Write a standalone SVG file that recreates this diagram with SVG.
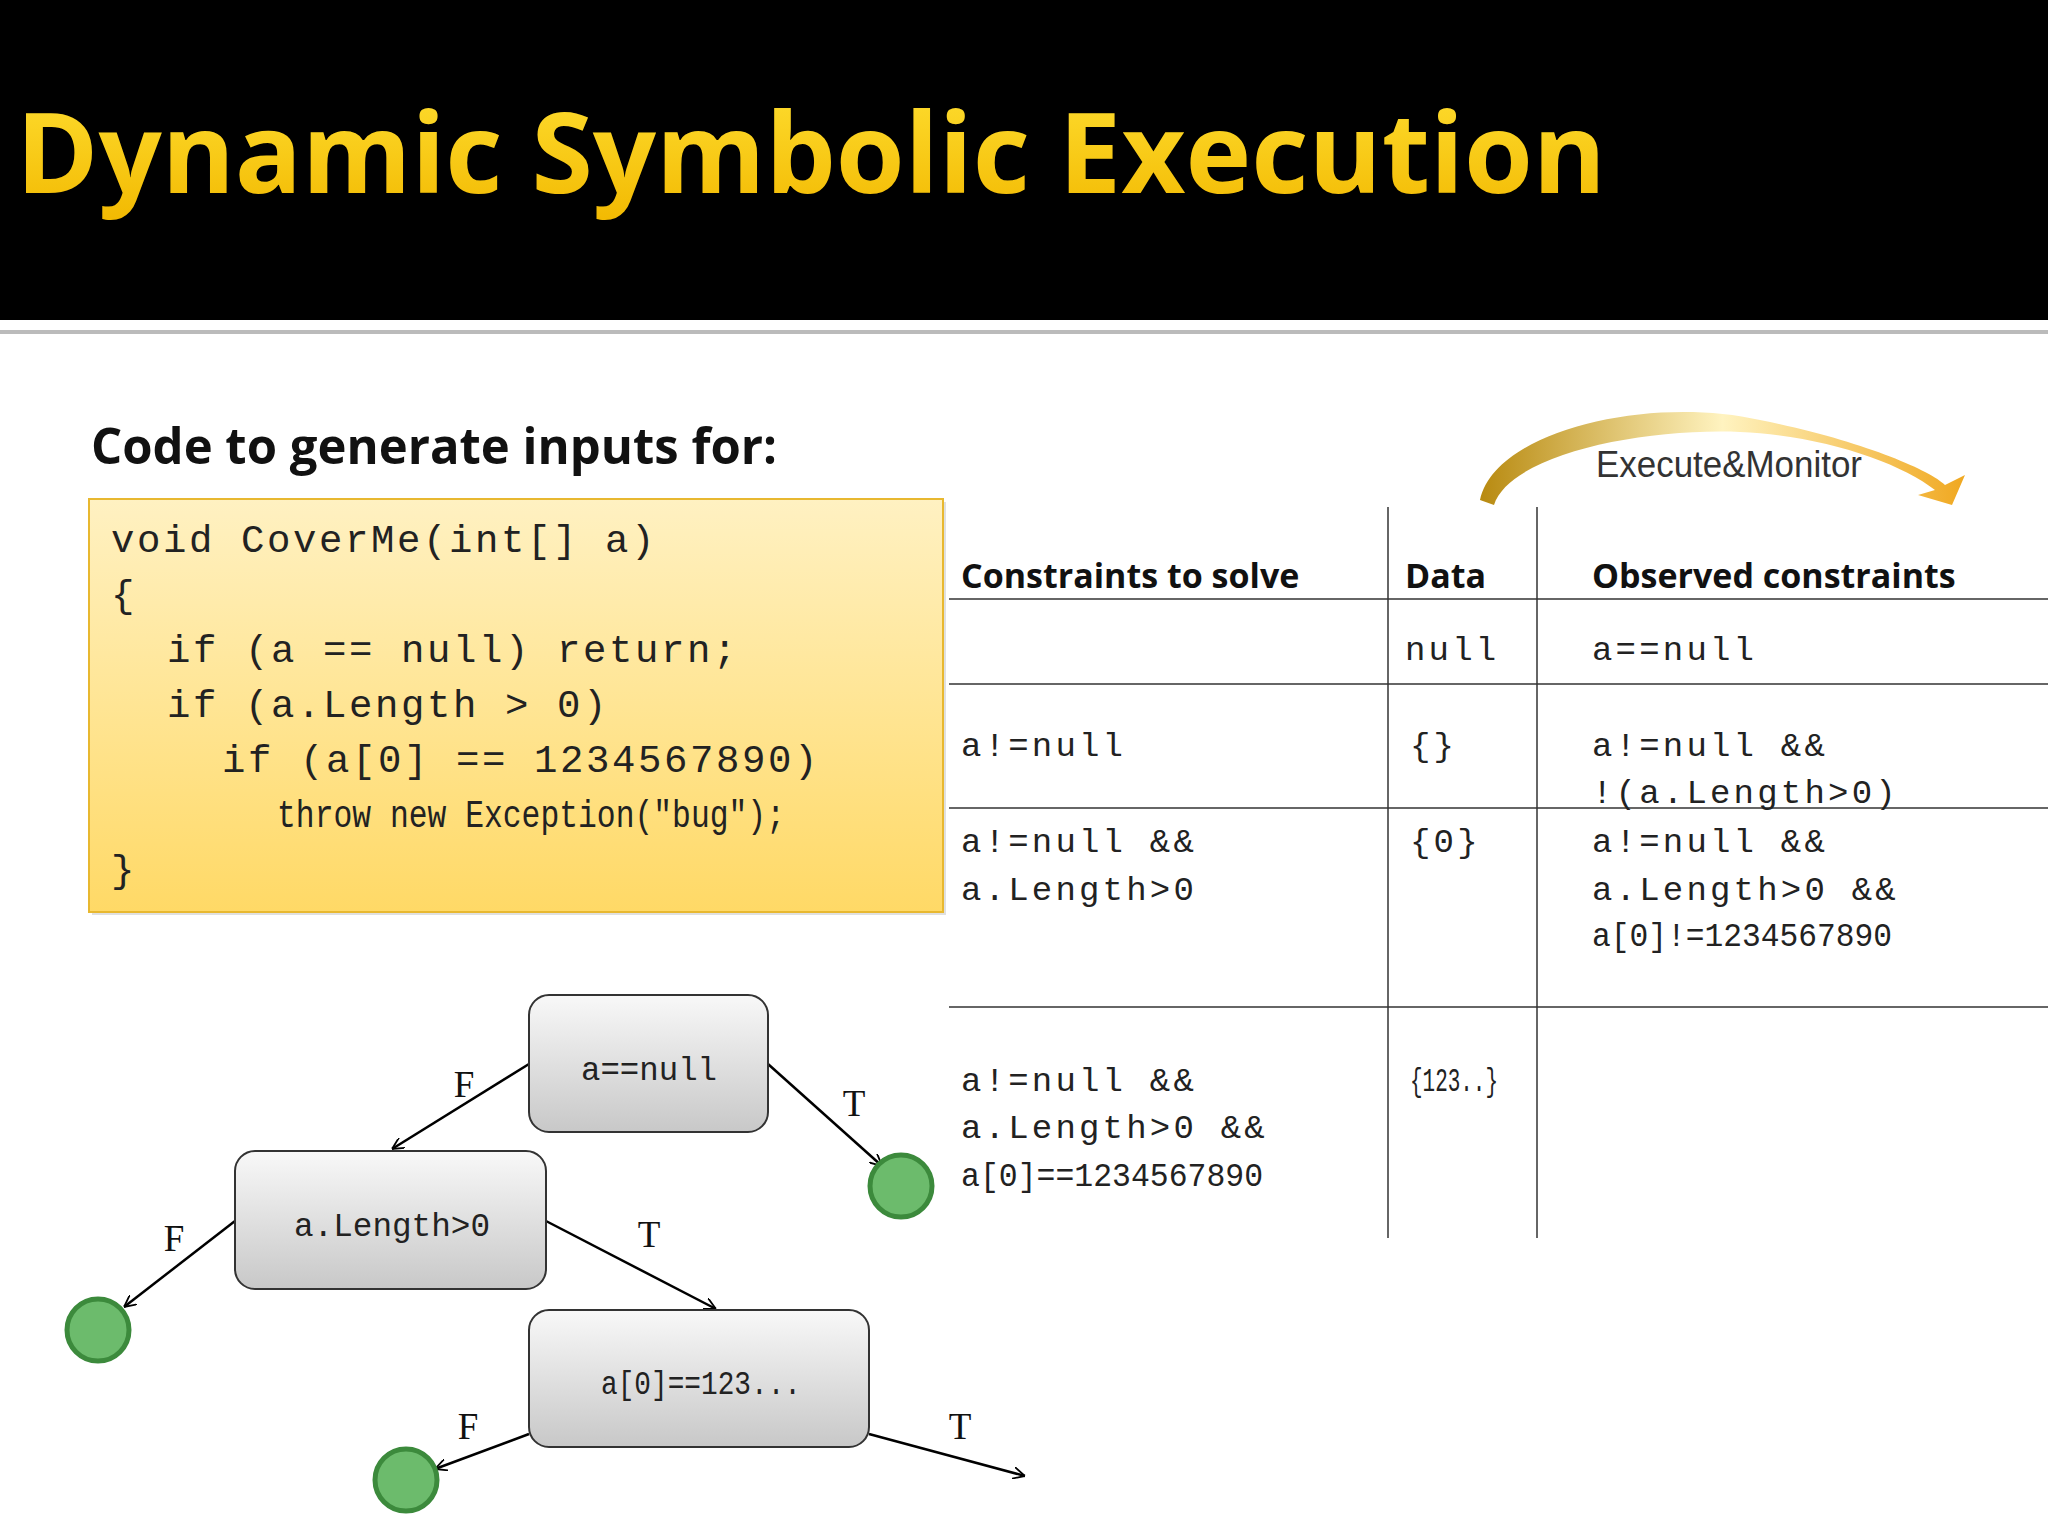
<svg xmlns="http://www.w3.org/2000/svg" width="2048" height="1536" viewBox="0 0 2048 1536">
<defs>
<linearGradient id="ttl" x1="0" y1="0" x2="0" y2="1"><stop offset="0" stop-color="#FFE033"/><stop offset="1" stop-color="#F2B800"/></linearGradient>
<linearGradient id="code" x1="0" y1="0" x2="0" y2="1"><stop offset="0" stop-color="#FFF1C2"/><stop offset="1" stop-color="#FFD966"/></linearGradient>
<linearGradient id="node" x1="0" y1="0" x2="0" y2="1"><stop offset="0" stop-color="#F8F8F8"/><stop offset="1" stop-color="#C8C8C8"/></linearGradient>
<linearGradient id="arc" x1="0" y1="0" x2="1" y2="0"><stop offset="0" stop-color="#B88A10"/><stop offset="0.5" stop-color="#FFF3C0"/><stop offset="1" stop-color="#F0A820"/></linearGradient>
<marker id="ah" viewBox="0 0 10 10" refX="10" refY="5" markerWidth="12" markerHeight="12" markerUnits="userSpaceOnUse" orient="auto"><path d="M0,0 L10,5 L0,10" fill="none" stroke="#000" stroke-width="1.5"/></marker>
</defs>
<style>
.mono{font-family:"Liberation Mono","DejaVu Sans Mono",monospace;fill:#222}
.code{font-size:39px;letter-spacing:2.6px}
.cell{font-size:34px;letter-spacing:3.2px}
.hdr{font-family:"Open Sans","Liberation Sans",sans-serif;font-weight:bold;font-size:34px;fill:#111}
.lbl{font-family:"Liberation Serif",serif;font-size:37px;fill:#111}
.edge{stroke:#000;stroke-width:2.5;fill:none;marker-end:url(#ah)}
.nd{fill:url(#node);stroke:#333;stroke-width:2}
.leaf{fill:#6CBB6C;stroke:#3C8A3C;stroke-width:5}
.tl{stroke:#333;stroke-width:1.5}
</style>
<rect x="0" y="0" width="2048" height="2048" fill="#fff"/>
<rect x="0" y="0" width="2048" height="320" fill="#000"/>
<rect x="0" y="330" width="2048" height="4" fill="#bbb"/>
<text x="16" y="193" font-family="Open Sans,Liberation Sans,sans-serif" font-weight="bold" font-size="112" fill="url(#ttl)" textLength="1590" lengthAdjust="spacingAndGlyphs">Dynamic Symbolic Execution</text>
<text x="91" y="464" font-family="Open Sans,Liberation Sans,sans-serif" font-weight="bold" font-size="50" fill="#111" textLength="686" lengthAdjust="spacingAndGlyphs">Code to generate inputs for:</text>
<g id="code">
<rect x="92" y="502" width="854" height="413" fill="#ccc" opacity="0.6"/>
<rect x="89" y="499" width="854" height="413" fill="url(#code)" stroke="#E8B830" stroke-width="2"/>
<text class="mono code" x="111" y="552">void CoverMe(int[] a)</text>
<text class="mono code" x="111" y="607">{</text>
<text class="mono code" x="167" y="662">if (a == null) return;</text>
<text class="mono code" x="167" y="717">if (a.Length &gt; 0)</text>
<text class="mono code" x="222" y="772">if (a[0] == 1234567890)</text>
<text class="mono" font-size="39" x="277" y="827" textLength="508" lengthAdjust="spacingAndGlyphs">throw new Exception("bug");</text>
<text class="mono code" x="111" y="882">}</text>
</g>
<g id="execute-monitor">
<path d="M1480,500 C1495,430 1650,395 1760,420 C1860,440 1930,470 1945,485 L1965,475 L1952,505 L1918,495 L1935,490 C1900,462 1820,435 1740,432 C1640,428 1510,455 1494,505 Z" fill="url(#arc)"/>
<text x="1596" y="477" font-family="Liberation Sans,sans-serif" font-size="37" fill="#333" textLength="266" lengthAdjust="spacingAndGlyphs" style="paint-order:stroke" stroke="#fff" stroke-width="3">Execute&amp;Monitor</text>
</g>
<g id="table">
<line class="tl" x1="1388" y1="507" x2="1388" y2="1238"/>
<line class="tl" x1="1537" y1="507" x2="1537" y2="1238"/>
<line class="tl" x1="949" y1="599" x2="2048" y2="599"/>
<line class="tl" x1="949" y1="684" x2="2048" y2="684"/>
<line class="tl" x1="949" y1="808" x2="2048" y2="808"/>
<line class="tl" x1="949" y1="1007" x2="2048" y2="1007"/>
<text class="hdr" x="961" y="588">Constraints to solve</text>
<text class="hdr" x="1405" y="588">Data</text>
<text class="hdr" x="1592" y="588">Observed constraints</text>
<text class="mono cell" x="1405" y="660">null</text>
<text class="mono cell" x="1592" y="660">a==null</text>
<text class="mono cell" x="961" y="756">a!=null</text>
<text class="mono cell" x="1410" y="756">{}</text>
<text class="mono cell" x="1592" y="756">a!=null &amp;&amp;</text>
<text class="mono cell" x="1592" y="803">!(a.Length&gt;0)</text>
<text class="mono cell" x="961" y="852">a!=null &amp;&amp;</text>
<text class="mono cell" x="961" y="900">a.Length&gt;0</text>
<text class="mono cell" x="1410" y="852">{0}</text>
<text class="mono cell" x="1592" y="852">a!=null &amp;&amp;</text>
<text class="mono cell" x="1592" y="900">a.Length&gt;0 &amp;&amp;</text>
<text class="mono" font-size="34" x="1592" y="946" textLength="300" lengthAdjust="spacingAndGlyphs">a[0]!=1234567890</text>
<text class="mono cell" x="961" y="1091">a!=null &amp;&amp;</text>
<text class="mono cell" x="961" y="1138">a.Length&gt;0 &amp;&amp;</text>
<text class="mono" font-size="34" x="961" y="1186" textLength="302" lengthAdjust="spacingAndGlyphs">a[0]==1234567890</text>
<text class="mono" font-size="34" x="1410" y="1091" textLength="88" lengthAdjust="spacingAndGlyphs">{123..}</text>
</g>
<g id="connectors">
<line class="edge" x1="529" y1="1064" x2="392" y2="1149"/>
<line class="edge" x1="768" y1="1064" x2="882" y2="1166"/>
<line class="edge" x1="235" y1="1221" x2="124" y2="1307"/>
<line class="edge" x1="546" y1="1221" x2="716" y2="1309"/>
<line class="edge" x1="529" y1="1434" x2="435" y2="1469"/>
<line class="edge" x1="869" y1="1434" x2="1025" y2="1476"/>
<text class="lbl" x="464" y="1097" text-anchor="middle">F</text>
<text class="lbl" x="854" y="1116" text-anchor="middle">T</text>
<text class="lbl" x="174" y="1251" text-anchor="middle">F</text>
<text class="lbl" x="649" y="1247" text-anchor="middle">T</text>
<text class="lbl" x="468" y="1439" text-anchor="middle">F</text>
<text class="lbl" x="960" y="1439" text-anchor="middle">T</text>
</g>
<g id="n-anull"><rect class="nd" x="529" y="995" width="239" height="137" rx="20"/><text class="mono" font-size="34" x="649" y="1080" text-anchor="middle" textLength="136" lengthAdjust="spacingAndGlyphs">a==null</text></g>
<g id="n-alen"><rect class="nd" x="235" y="1151" width="311" height="138" rx="20"/><text class="mono" font-size="34" x="392" y="1236" text-anchor="middle" textLength="196" lengthAdjust="spacingAndGlyphs">a.Length&gt;0</text></g>
<g id="n-a0"><rect class="nd" x="529" y="1310" width="340" height="137" rx="20"/><text class="mono" font-size="34" x="701" y="1394" text-anchor="middle" textLength="200" lengthAdjust="spacingAndGlyphs">a[0]==123...</text></g>
<g id="leaf1"><circle class="leaf" cx="901" cy="1186" r="31"/></g>
<g id="leaf2"><circle class="leaf" cx="98" cy="1330" r="31"/></g>
<g id="leaf3"><circle class="leaf" cx="406" cy="1480" r="31"/></g>
</svg>
